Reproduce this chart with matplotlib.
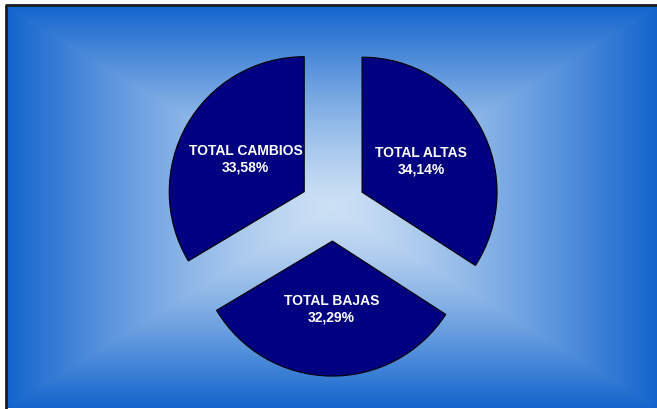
import matplotlib
matplotlib.use("Agg")
import matplotlib.pyplot as plt
import numpy as np

# datos del gráfico
categorias = ["TOTAL ALTAS", "TOTAL BAJAS", "TOTAL CAMBIOS"]
porcentajes = [34.14, 32.29, 33.58]
etiquetas_pct = ["34,14%", "32,29%", "33,58%"]

W, H = 657, 410
fig = plt.figure(figsize=(W / 100, H / 100), dpi=100)
fig.patch.set_facecolor("white")
ax = fig.add_axes([0, 0, 1, 1])

# fondo: degradado rectangular desde el centro
x0, x1 = 6, 658
y0, y1 = 1, 403  # en coordenadas con y hacia arriba
cx, cy = (x0 + x1) / 2, (y0 + y1) / 2
xs = np.linspace(x0, x1, 700)
ys = np.linspace(y0, y1, 430)
X, Y = np.meshgrid(xs, ys)
t = np.maximum(np.abs(X - cx) / ((x1 - x0) / 2), np.abs(Y - cy) / ((y1 - y0) / 2))
t = np.clip(t, 0, 1) ** 1.3
c_centro = np.array([205, 225, 245]) / 255
c_borde = np.array([18, 100, 205]) / 255
img = c_centro[None, None, :] * (1 - t[..., None]) + c_borde[None, None, :] * t[..., None]
ax.imshow(img, extent=(x0, x1, y0, y1), origin="lower", zorder=0, interpolation="bilinear")

# marco (solo se ven los bordes izquierdo y superior)
ax.plot([x0, x0, x1], [0, y1 + 1, y1 + 1], color="#1a1a1a", lw=2, zorder=1,
        solid_capstyle="butt")

# tarta separada
radio = 135
nombres = iter(zip(categorias, etiquetas_pct))
def fmt(_):
    n, p = next(nombres)
    return f"{n}\n{p}"

# en matplotlib explode se aplica en unidades de datos, no relativo al radio
wedges, textos, autotextos = ax.pie(
    porcentajes, center=(333, 201), radius=radio, startangle=90, counterclock=False,
    explode=[0.245 * radio] * 3, colors=["#000080"] * 3,
    wedgeprops=dict(edgecolor="black", linewidth=0.8),
    autopct=fmt, pctdistance=0.5, frame=True,
    textprops=dict(color="white", fontweight="bold", fontsize=10,
                   family="Liberation Sans", linespacing=1.25),
)
for w in wedges:
    w.set_zorder(2)
for tx in autotextos:
    tx.set_zorder(3)

ax.set_xlim(0, W)
ax.set_ylim(0, H)
ax.set_aspect("equal")
ax.axis("off")

fig.savefig("out.png", dpi=100, facecolor="white")
